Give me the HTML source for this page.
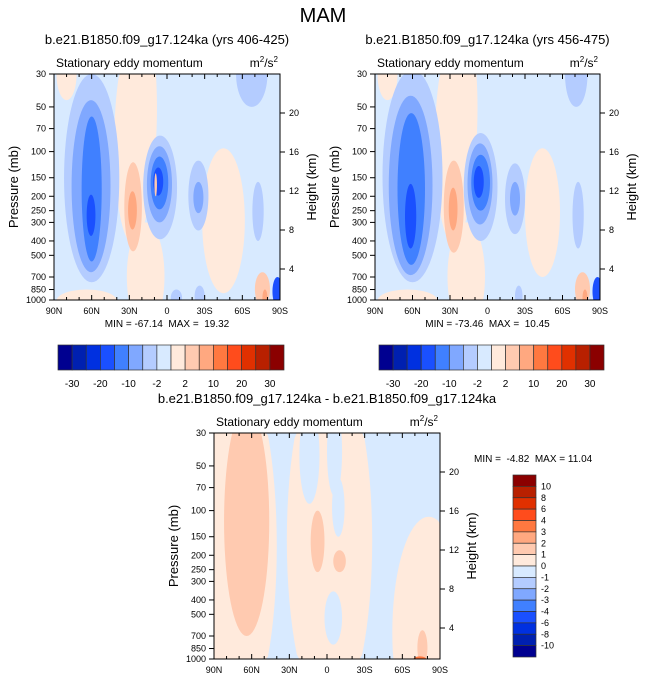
<!DOCTYPE html>
<html><head><meta charset="utf-8"><style>
html,body{margin:0;padding:0;background:#fff;overflow:hidden;width:647px;height:683px;}
svg{display:block;}
svg text{font-family:"Liberation Sans",sans-serif;fill:#000;white-space:pre;}
</style></head><body>
<svg id="c" width="647" height="683" viewBox="0 0 647 683" xmlns="http://www.w3.org/2000/svg">
<text x="323" y="22" font-size="20" text-anchor="middle">MAM</text>
</svg>
<script>
// colour levels (-30..30)
const levelColors=["#000090","#0020b0","#0030e0","#1a50ff","#4080ff","#80a8ff","#b4ccff","#d8eaff","#ffeadc","#ffcab0","#ffa880","#ff7840","#ff4c1c","#e03000","#b82000","#8b0000"];
const topLabels=["-30","-20","-10","-2","2","10","20","30"];
const diffLabels=["10","8","6","4","3","2","1","0","-1","-2","-3","-4","-6","-8","-10"];
const pTicks=[30,50,70,100,150,200,250,300,400,500,700,850,1000];
const hTicks=[4,8,12,16,20];
const latTicks=[90,60,30,0,-30,-60,-90];
const latTickLabels=["90N","60N","30N","0","30S","60S","90S"];
// blobs: [lat1, lat2, pTop, pBot, level]
const blobsA=[[88,72,20,45,8],[42,12,18,420,8],[32,2,300,1600,8],[18,8,20,130,8],[-28,-62,95,900,8],[88,40,850,1200,8],
[82,38,30,760,6],[19,-8,78,390,6],[-17,-33,115,340,6],[-68,-77,160,400,6],[-55,-80,18,50,6],[-3,-12,850,1100,6],[-22,-30,800,1100,6],
[76,45,45,650,5],[16,-4,92,300,5],[-21,-29,160,260,5],
[68,52,58,550,4],[13,-1,108,245,4],[64,57,195,370,3],[11,3,128,198,3],
[34,20,118,470,9],[31,24,185,335,10],[10,8,140,200,9],
[-70,-82,650,1100,9],[-76,-80,850,1100,10],[-84,-92,700,1100,3]];
const blobsB=[[88,72,20,45,8],[42,12,18,420,8],[32,2,300,1600,8],[18,8,20,130,8],[-30,-58,95,700,8],[88,40,850,1200,8],
[84,36,28,760,6],[19,-8,75,400,6],[-14,-30,120,360,6],[-68,-77,160,450,6],[-62,-80,18,50,6],[-22,-28,800,1100,6],
[79,44,42,680,5],[16,-4,88,310,5],[-18,-26,160,270,5],[-70,-76,200,400,6],
[72,50,55,580,4],[13,-2,105,250,4],[66,57,165,450,3],[11,3,125,205,3],
[35,19,115,480,9],[31,24,175,340,10],
[-70,-82,650,1100,9],[-76,-80,850,1100,10],[-84,-92,700,1100,3]];
const blobsC=[[100,40,12,2500,8],[32,-36,10,2500,8],[-52,-110,110,4000,8],[22,6,20,90,7],[2,-12,350,800,7],[-4,-14,60,150,7],[0,-12,20,80,7],
[82,46,20,700,9],[13,2,100,260,9],[-5,-15,185,260,9],[-72,-80,640,1100,9],[-68,-80,960,1100,11]];
const panels=[
 {x0:54,x1:280,y0:74,y1:300,blobs:blobsA,title:"b.e21.B1850.f09_g17.124ka (yrs 406-425)",mm:"MIN = -67.14  MAX =  19.32",name:"panel-406-425"},
 {x0:375,x1:600,y0:74,y1:300,blobs:blobsB,title:"b.e21.B1850.f09_g17.124ka (yrs 456-475)",mm:"MIN = -73.46  MAX =  10.45",name:"panel-456-475"},
 {x0:214,x1:440,y0:433,y1:659,blobs:blobsC,title:"b.e21.B1850.f09_g17.124ka - b.e21.B1850.f09_g17.124ka",mm:null,name:"panel-difference"}];
const svg=document.getElementById('c');const NS="http://www.w3.org/2000/svg";
function mk(t,a,txt){const e=document.createElementNS(NS,t);for(const k in a)e.setAttribute(k,a[k]);if(txt!=null)e.textContent=txt;svg.appendChild(e);return e;}
panels.forEach((P,pi)=>{
 const W=P.x1-P.x0,H=P.y1-P.y0;
 const xOf=lat=>P.x0+(90-lat)/180*W;
 const yOf=p=>P.y0+Math.log(p/30)/Math.log(1000/30)*H;
 const hOf=h=>P.y1-31-(h-4)/16*(P.y1-31-(P.y0+39));
 let t=mk('text',{x:(P.x0+P.x1)/2,y:P.y0-30,'font-size':13,'text-anchor':'middle'},P.title);
 
 t=mk('text',{x:P.x0+2,y:P.y0-7,'font-size':12},"Stationary eddy momentum");
 
 t=mk('text',{x:P.x1-2,y:P.y0-7,'font-size':12,'text-anchor':'end'});t.innerHTML='m<tspan font-size="8" dy="-5">2</tspan><tspan dy="5">/s</tspan><tspan font-size="8" dy="-5">2</tspan>';
 
 const g=mk('g',{});
 
 const bg=document.createElementNS(NS,'rect');bg.setAttribute('x',P.x0);bg.setAttribute('y',P.y0);bg.setAttribute('width',W);bg.setAttribute('height',H);bg.setAttribute('fill',levelColors[7]);g.appendChild(bg);
 const clX=v=>Math.min(P.x1,Math.max(P.x0,v)),clY=v=>Math.min(P.y1,Math.max(P.y0,v));
 P.blobs.forEach(b=>{const e=document.createElementNS(NS,'path');
  const xa=xOf(b[0]),xb=xOf(b[1]),ya=yOf(b[2]),yb=yOf(b[3]);
  const cx=(xa+xb)/2,cy=(ya+yb)/2,rx=Math.abs(xb-xa)/2,ry=Math.abs(yb-ya)/2;
  let d='';for(let k=0;k<72;k++){const a=k/72*2*Math.PI;
   d+=(k?'L':'M')+clX(cx+rx*Math.cos(a)).toFixed(2)+','+clY(cy+ry*Math.sin(a)).toFixed(2);}
  e.setAttribute('d',d+'Z');
  e.setAttribute('fill',levelColors[b[4]]);
  
  
  g.appendChild(e);});
 let r=mk('rect',{x:P.x0,y:P.y0,width:W,height:H,fill:'none',stroke:'#000','stroke-width':1});
 
 for(let lat=90;lat>=-90;lat-=10){const x=xOf(lat);const L=(lat%30===0)?5:3;
  mk('line',{x1:x,x2:x,y1:P.y0,y2:P.y0+L,stroke:'#000'});mk('line',{x1:x,x2:x,y1:P.y1,y2:P.y1-L,stroke:'#000'});}
 latTicks.forEach((lat,i)=>{const tx=mk('text',{x:xOf(lat),y:P.y1+14,'font-size':9,'text-anchor':'middle'},latTickLabels[i]);
  });
 pTicks.forEach(p=>{const y=yOf(p);mk('line',{x1:P.x0-5,x2:P.x0,y1:y,y2:y,stroke:'#000'});
  const tx=mk('text',{x:P.x0-8,y:y+3,'font-size':9,'text-anchor':'end'},String(p));
  });
 hTicks.forEach(h=>{const y=hOf(h);mk('line',{x1:P.x1,x2:P.x1+5,y1:y,y2:y,stroke:'#000'});
  const tx=mk('text',{x:P.x1+9,y:y+3,'font-size':9},String(h));
  });
 const cy=(P.y0+P.y1)/2;
 t=mk('text',{x:0,y:0,'font-size':13,'text-anchor':'middle',transform:`translate(${P.x0-36},${cy}) rotate(-90)`},"Pressure (mb)");
 
 t=mk('text',{x:0,y:0,'font-size':13,'text-anchor':'middle',transform:`translate(${P.x1+36},${cy}) rotate(-90)`},"Height (km)");
 
 if(P.mm){t=mk('text',{x:(P.x0+P.x1)/2,y:P.y1+27,'font-size':10,'text-anchor':'middle'},P.mm);
  
  const bx0=P.x0+4,bx1=P.x1+4,bw=(bx1-bx0)/16;
  levelColors.forEach((c,i)=>{const rr=mk('rect',{x:bx0+i*bw,y:345,width:bw,height:25,fill:c,stroke:'#333','stroke-width':0.7});
   });
  topLabels.forEach((l,i)=>{const tx=mk('text',{x:bx0+(1+2*i)*bw,y:387,'font-size':10,'text-anchor':'middle'},l);
   });
 }
});
let t2=mk('text',{x:474,y:462,'font-size':10},"MIN =  -4.82  MAX = 11.04");

const bh=(657-475)/16;
levelColors.slice().reverse().forEach((c,i)=>{const rr=mk('rect',{x:513,y:475+i*bh,width:23,height:bh,fill:c,stroke:'#333','stroke-width':0.7});
 });
diffLabels.forEach((l,i)=>{const tx=mk('text',{x:541,y:475+(i+1)*bh+3,'font-size':9},l);
 });
</script>
</body></html>
